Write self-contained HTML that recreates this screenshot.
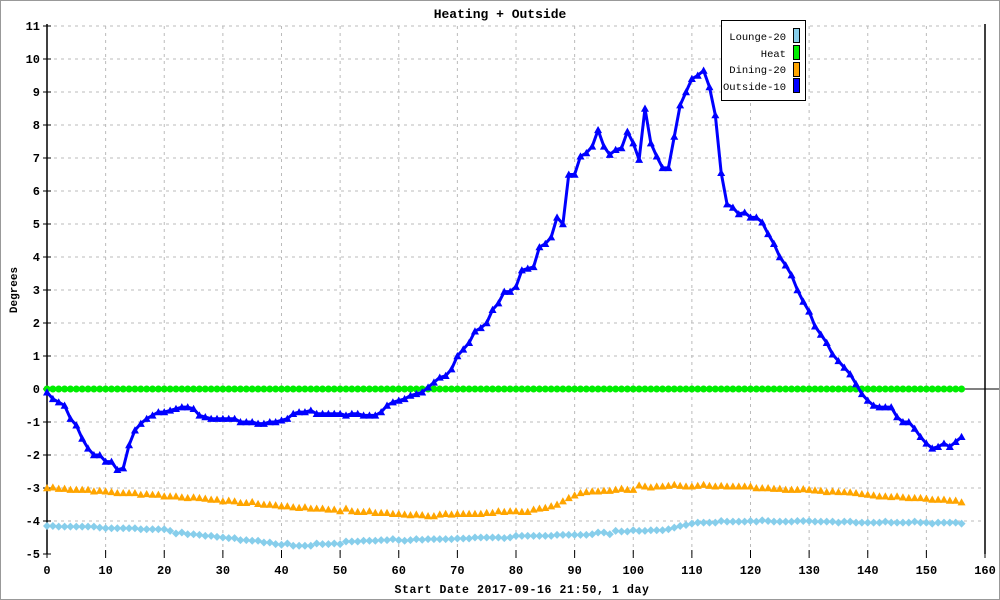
<!DOCTYPE html>
<html><head><meta charset="utf-8"><style>
body{margin:0;background:#fff;}
svg{display:block;font-family:"Liberation Mono",monospace;}
</style></head><body>
<svg id="chart" width="1000" height="600" xmlns="http://www.w3.org/2000/svg">
<rect x="0.5" y="0.5" width="999" height="599" fill="#fff" stroke="#999"/>
<text x="500" y="18" text-anchor="middle" font-size="13" font-weight="bold">Heating + Outside</text>
<text transform="translate(17,290) rotate(-90)" text-anchor="middle" font-size="11" font-weight="bold">Degrees</text>
<text x="522" y="593" text-anchor="middle" font-size="11.5" font-weight="bold" letter-spacing="0.6">Start Date 2017-09-16 21:50, 1 day</text>
<g id="grid"></g>
<g id="axes"></g>
<g id="series"></g>
<g>
<rect x="721.5" y="20.5" width="84" height="80" fill="#fff" stroke="#000"/>
<g><text x="786" y="40" text-anchor="end" font-size="10.5">Lounge-20</text><rect x="793.5" y="28.5" width="6" height="14" fill="#87ceeb" stroke="#000"/></g>
<g><text x="786" y="57" text-anchor="end" font-size="10.5">Heat</text><rect x="793.5" y="45.5" width="6" height="14" fill="#00ee00" stroke="#000"/></g>
<g><text x="786" y="73" text-anchor="end" font-size="10.5">Dining-20</text><rect x="793.5" y="62.5" width="6" height="14" fill="#ffa500" stroke="#000"/></g>
<g><text x="786" y="90" text-anchor="end" font-size="10.5">Outside-10</text><rect x="793.5" y="78.5" width="6" height="14" fill="#0000ff" stroke="#000"/></g>
</g>
</svg>
<script>
const xTicks=[0,10,20,30,40,50,60,70,80,90,100,110,120,130,140,150,160];
const yTicks=[-5,-4,-3,-2,-1,0,1,2,3,4,5,6,7,8,9,10,11];
const outside=[-0.1,-0.3,-0.4,-0.5,-0.9,-1.1,-1.5,-1.8,-2.0,-2.0,
-2.2,-2.2,-2.45,-2.4,-1.7,-1.25,-1.05,-0.9,-0.8,-0.7,
-0.7,-0.65,-0.6,-0.55,-0.55,-0.6,-0.8,-0.85,-0.9,-0.9,
-0.9,-0.9,-0.9,-1.0,-1.0,-1.0,-1.05,-1.05,-1.0,-1.0,
-0.95,-0.9,-0.75,-0.7,-0.7,-0.65,-0.75,-0.75,-0.75,-0.75,
-0.75,-0.8,-0.75,-0.75,-0.8,-0.8,-0.8,-0.7,-0.5,-0.4,
-0.35,-0.3,-0.2,-0.15,-0.1,0.05,0.2,0.35,0.4,0.6,
1.0,1.2,1.4,1.75,1.85,2.0,2.4,2.6,2.95,2.95,
3.1,3.6,3.65,3.7,4.3,4.4,4.6,5.2,5.0,6.5,
6.5,7.05,7.15,7.35,7.85,7.35,7.1,7.25,7.3,7.8,
7.45,6.95,8.5,7.45,7.05,6.7,6.7,7.65,8.6,9.0,
9.4,9.5,9.65,9.15,8.3,6.55,5.6,5.5,5.3,5.35,
5.2,5.2,5.05,4.7,4.4,4.0,3.75,3.45,3.0,2.65,
2.35,1.9,1.65,1.4,1.05,0.85,0.65,0.45,0.15,-0.15,
-0.35,-0.5,-0.55,-0.55,-0.55,-0.85,-1.0,-1.0,-1.2,-1.45,
-1.65,-1.8,-1.75,-1.65,-1.75,-1.6,-1.45];
const dining=[-3.0,-2.98,-3.02,-3.02,-3.05,-3.05,-3.05,-3.05,-3.1,-3.08,
-3.1,-3.12,-3.15,-3.15,-3.15,-3.15,-3.2,-3.18,-3.2,-3.2,
-3.25,-3.25,-3.25,-3.28,-3.3,-3.28,-3.3,-3.32,-3.35,-3.35,
-3.4,-3.38,-3.4,-3.45,-3.45,-3.42,-3.48,-3.5,-3.5,-3.52,
-3.55,-3.55,-3.58,-3.6,-3.58,-3.62,-3.62,-3.62,-3.65,-3.65,
-3.7,-3.62,-3.7,-3.72,-3.72,-3.7,-3.75,-3.75,-3.75,-3.78,
-3.78,-3.8,-3.82,-3.8,-3.82,-3.85,-3.85,-3.8,-3.78,-3.8,
-3.78,-3.78,-3.78,-3.78,-3.78,-3.75,-3.75,-3.7,-3.72,-3.7,
-3.7,-3.72,-3.72,-3.65,-3.62,-3.6,-3.55,-3.5,-3.4,-3.3,
-3.22,-3.15,-3.12,-3.1,-3.1,-3.08,-3.08,-3.05,-3.02,-3.05,
-3.05,-2.92,-2.95,-2.98,-2.95,-2.95,-2.93,-2.9,-2.93,-2.95,
-2.95,-2.93,-2.9,-2.93,-2.95,-2.93,-2.95,-2.95,-2.95,-2.95,
-2.95,-3.0,-3.0,-3.0,-3.02,-3.02,-3.05,-3.05,-3.05,-3.03,
-3.05,-3.07,-3.08,-3.12,-3.1,-3.12,-3.12,-3.13,-3.15,-3.18,
-3.2,-3.22,-3.25,-3.25,-3.27,-3.25,-3.28,-3.3,-3.3,-3.3,
-3.32,-3.35,-3.35,-3.35,-3.38,-3.38,-3.43];
const lounge=[-4.15,-4.15,-4.17,-4.17,-4.17,-4.17,-4.17,-4.17,-4.17,-4.2,
-4.22,-4.22,-4.22,-4.22,-4.22,-4.22,-4.25,-4.25,-4.25,-4.25,
-4.25,-4.3,-4.38,-4.35,-4.4,-4.4,-4.42,-4.45,-4.45,-4.48,
-4.5,-4.52,-4.52,-4.58,-4.58,-4.6,-4.6,-4.65,-4.65,-4.7,
-4.72,-4.68,-4.75,-4.75,-4.75,-4.75,-4.68,-4.7,-4.7,-4.68,
-4.7,-4.62,-4.62,-4.62,-4.6,-4.6,-4.6,-4.58,-4.58,-4.55,
-4.58,-4.6,-4.58,-4.55,-4.57,-4.55,-4.55,-4.55,-4.55,-4.55,
-4.53,-4.53,-4.53,-4.5,-4.5,-4.5,-4.5,-4.5,-4.52,-4.5,
-4.45,-4.45,-4.45,-4.45,-4.45,-4.45,-4.45,-4.42,-4.42,-4.42,
-4.42,-4.42,-4.42,-4.4,-4.35,-4.35,-4.4,-4.3,-4.32,-4.32,
-4.28,-4.3,-4.3,-4.28,-4.28,-4.28,-4.25,-4.2,-4.15,-4.12,
-4.08,-4.05,-4.05,-4.05,-4.05,-4.0,-4.02,-4.02,-4.02,-4.02,
-4.0,-4.02,-3.98,-4.0,-4.02,-4.02,-4.02,-4.02,-4.0,-4.0,
-4.0,-4.02,-4.02,-4.02,-4.02,-4.05,-4.02,-4.02,-4.05,-4.05,
-4.05,-4.05,-4.05,-4.02,-4.05,-4.05,-4.05,-4.05,-4.02,-4.05,
-4.05,-4.08,-4.05,-4.05,-4.05,-4.05,-4.08];
const heat=[0,0,0,0,0,0,0,0,0,0,0,0,0,0,0,0,0,0,0,0,
0,0,0,0,0,0,0,0,0,0,0,0,0,0,0,0,0,0,0,0,
0,0,0,0,0,0,0,0,0,0,0,0,0,0,0,0,0,0,0,0,
0,0,0,0,0,0,0,0,0,0,0,0,0,0,0,0,0,0,0,0,
0,0,0,0,0,0,0,0,0,0,0,0,0,0,0,0,0,0,0,0,
0,0,0,0,0,0,0,0,0,0,0,0,0,0,0,0,0,0,0,0,
0,0,0,0,0,0,0,0,0,0,0,0,0,0,0,0,0,0,0,0,
0,0,0,0,0,0,0,0,0,0,0,0,0,0,0,0,0];

const NS="http://www.w3.org/2000/svg";
const X0=47,X1=985,Y0=554,Y1=26,XMIN=0,XMAX=160,YMIN=-5,YMAX=11;
function xs(v){return X0+(v-XMIN)/(XMAX-XMIN)*(X1-X0);}
function ys(v){return Y0-(v-YMIN)/(YMAX-YMIN)*(Y0-Y1);}
function mk(tag,attrs,parent){const e=document.createElementNS(NS,tag);for(const k in attrs)e.setAttribute(k,attrs[k]);parent.appendChild(e);return e;}
const grid=document.getElementById('grid'),axes=document.getElementById('axes'),ser=document.getElementById('series');

xTicks.forEach(t=>{
 const x=xs(t);
 if(t>0&&t<160){const g=mk('line',{x1:x,y1:Y1,x2:x,y2:Y0,stroke:'#bbb','stroke-dasharray':'3,4'},grid);
 
 }
 const tk=mk('line',{x1:x,y1:Y0-4,x2:x,y2:Y0+4,stroke:'#000'},axes);
 
 
 const tl=mk('text',{x:x,y:Y0+20,'text-anchor':'middle','font-size':'12','font-weight':'bold'},axes);
 tl.textContent=t;
 
 
});
yTicks.forEach(t=>{
 const y=ys(t);
 if(t!==0&&t!==-5){const g=mk('line',{x1:X0,y1:y,x2:X1,y2:y,stroke:'#bbb','stroke-dasharray':'3,4'},grid);
 
 }
 const tk=mk('line',{x1:X0-4,y1:y,x2:X0+4,y2:y,stroke:'#000'},axes);
 
 
 const tl=mk('text',{x:X0-7,y:y+4,'text-anchor':'end','font-size':'12','font-weight':'bold'},axes);
 tl.textContent=t;
 
 
});
let a=mk('line',{x1:X0,y1:Y1-2,x2:X0,y2:Y0,stroke:'#000','stroke-width':1.5},axes);


a=mk('line',{x1:X1,y1:Y1-2,x2:X1,y2:Y0,stroke:'#000','stroke-width':1.5},axes);


a=mk('line',{x1:X0,y1:ys(0),x2:X1+14,y2:ys(0),stroke:'#000'},axes);



function tri(x,y,s){return `M${x},${y-s} L${x+s},${y+s*0.8} L${x-s},${y+s*0.8}Z`;}
const lg=mk('g',{fill:'#87ceeb'},ser);


lounge.forEach((v,i)=>{const x=xs(i),y=ys(v);
 const p=mk('path',{d:`M${x},${y-4} L${x+4},${y} L${x},${y+4} L${x-4},${y}Z`},lg);
 
 });
const dg=mk('g',{fill:'#ffa500'},ser);


dining.forEach((v,i)=>{const p=mk('path',{d:tri(xs(i),ys(v),4)},dg);
 
 });
const hg=mk('g',{fill:'#00ee00'},ser);


heat.forEach((v,i)=>{const c=mk('circle',{cx:xs(i),cy:ys(v),r:3.5},hg);
 
 });
const og=mk('g',{fill:'#0000ff'},ser);


const ol=mk('polyline',{points:outside.map((v,i)=>xs(i)+','+ys(v)).join(' '),fill:'none',stroke:'#0000ff','stroke-width':3,'stroke-linejoin':'round'},og);


outside.forEach((v,i)=>{const p=mk('path',{d:tri(xs(i),ys(v),4)},og);
 
 });
</script>
</body></html>
